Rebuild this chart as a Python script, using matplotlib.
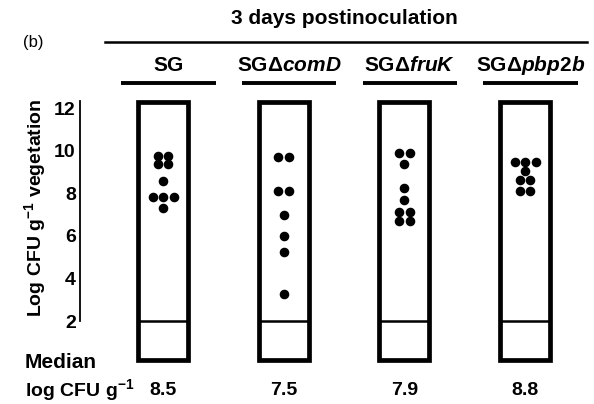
import numpy as np
import matplotlib.pyplot as plt
from matplotlib.patches import Rectangle

plt.rcParams['font.family'] = ['Liberation Sans', 'DejaVu Sans']
plt.rcParams['mathtext.fontset'] = 'custom'
plt.rcParams['mathtext.rm'] = 'Liberation Sans:bold'
plt.rcParams['mathtext.it'] = 'Liberation Sans:italic:bold'
plt.rcParams['mathtext.bf'] = 'Liberation Sans:bold'

# strains and log CFU/g vegetation per animal (3 days postinoculation)
strains = ['SG', r'SG$\Delta$$\it{comD}$', r'SG$\Delta$$\it{fruK}$', r'SG$\Delta$$\it{pbp2b}$']
sg = [9.76, 9.76, 9.37, 9.37, 8.59, 7.84, 7.84, 7.84, 7.29]
comd = [9.69, 9.69, 8.12, 8.12, 6.98, 5.99, 5.25, 3.25]
fruk = [9.87, 9.87, 9.37, 8.23, 7.68, 7.13, 7.13, 6.69, 6.69]
pbp2b = [9.48, 9.48, 9.48, 9.06, 8.62, 8.62, 8.10, 8.10]
medians = ['8.5', '7.5', '7.9', '8.8']
detection_limit = 2
yticks = [2, 4, 6, 8, 10, 12]

groups = [sg, comd, fruk, pbp2b]

fig = plt.figure(figsize=(5.94, 4.04), dpi=100)
ax = fig.add_axes([80 / 594, 0.1, 514 / 594, 0.6537])
ax.set_xlim(-0.688, 3.571)
ax.set_ylim(0, 12.4)

fs = 14
hfs = 15
bold = 'bold'

# boxes
for i in range(len(groups)):
    ax.add_patch(Rectangle((i - 0.207, 0.17), 0.414, 12.13, fill=False,
                           lw=3.4, ec='black', clip_on=False, zorder=2))
    ax.plot([i - 0.207, i + 0.207], [detection_limit, detection_limit],
            color='black', lw=1.8, zorder=2)

# dots: equal values spread side by side
step = 0.087
for i, vals in enumerate(groups):
    vals = np.array(vals)
    for v in np.unique(vals):
        n = np.sum(vals == v)
        xs = i + (np.arange(n) - (n - 1) / 2) * step
        ax.plot(xs, [v] * n, 'o', color='black', ms=5.9, zorder=3)

# y axis
for s in ['top', 'right', 'bottom']:
    ax.spines[s].set_visible(False)
ax.spines['left'].set_bounds(detection_limit, 12.35)
ax.spines['left'].set_linewidth(1.3)
ax.set_xticks([])
ax.set_yticks(yticks)
ax.set_yticklabels([str(t) for t in yticks], fontsize=fs, fontweight=bold)
ax.tick_params(axis='y', length=0, pad=3)
fig.text(35 / 594, 1 - 208 / 404, r'Log CFU g$^{-1}$ vegetation', rotation=90,
         ha='center', va='center', fontsize=fs, fontweight=bold)

# header
ax.text(1.5, 16.2, '3 days postinoculation', ha='center', va='center',
        fontsize=hfs, fontweight=bold, clip_on=False)
ax.plot([-0.48, 3.51], [15.1, 15.1], color='black', lw=1.8, clip_on=False)
off = 0.045
for i, name in enumerate(strains):
    ax.text(i + off, 14.02, name, ha='center', va='center', fontsize=hfs,
            fontweight=bold, clip_on=False)
    ax.plot([i + off - 0.39, i + off + 0.39], [13.17, 13.17], color='black',
            lw=2.8, clip_on=False, solid_capstyle='butt')
fig.text(33 / 594, 1 - 43 / 404, '(b)', ha='center', va='center', fontsize=12)

# medians
fig.text(25 / 594, 1 - 363 / 404, 'Median', ha='left', va='center',
         fontsize=hfs, fontweight=bold)
fig.text(25 / 594, 1 - 390 / 404, r'log CFU g$^{-1}$', ha='left', va='center',
         fontsize=fs, fontweight=bold)
for i, m in enumerate(medians):
    ax.text(i, -1.25, m, ha='center', va='center', fontsize=fs,
            fontweight=bold, clip_on=False)

plt.savefig('out.png', dpi=100)
